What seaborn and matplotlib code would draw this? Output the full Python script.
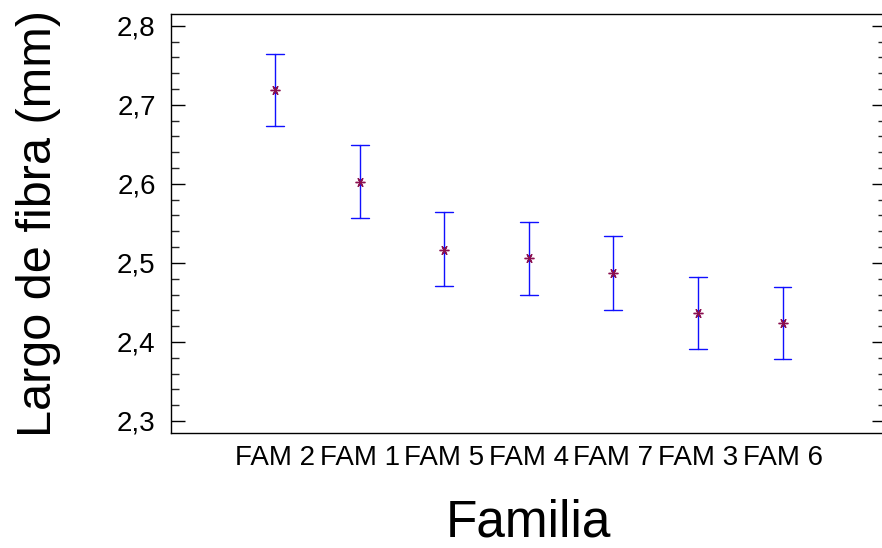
import numpy as np
import pandas as pd
import matplotlib
matplotlib.use("Agg")
import matplotlib.pyplot as plt
import seaborn as sns
from matplotlib.ticker import FixedLocator, MultipleLocator, FuncFormatter

familias = ["FAM 2", "FAM 1", "FAM 5", "FAM 4", "FAM 7", "FAM 3", "FAM 6"]
medias = [2.7187, 2.6019, 2.5167, 2.5062, 2.4868, 2.4362, 2.4243]
limite_inferior = [2.6731, 2.5564, 2.4711, 2.4594, 2.4408, 2.3907, 2.3784]
limite_superior = [2.7642, 2.6491, 2.5640, 2.5521, 2.5336, 2.4821, 2.4699]
y_ticks = [2.3, 2.4, 2.5, 2.6, 2.7, 2.8]

rows = []
for f, lo, m, hi in zip(familias, limite_inferior, medias, limite_superior):
    for v in (lo, m, hi):
        rows.append({"Familia": f, "Largo": v})
df = pd.DataFrame(rows)

sns.set_style("ticks")
plt.rcParams["font.family"] = ["Liberation Sans", "DejaVu Sans"]
plt.rcParams["text.color"] = "black"
plt.rcParams["axes.labelcolor"] = "black"

W, H = 882, 548
fig = plt.figure(figsize=(W / 100, H / 100), dpi=100)
left, right, top, bottom = 170.7, 886.3, 14.0, 432.7
ax = fig.add_axes([left / W, (H - bottom) / H, (right - left) / W, (bottom - top) / H])

sns.pointplot(
    data=df, x="Familia", y="Largo", order=familias,
    estimator="median", errorbar=("pi", 100),
    linestyle="none", marker=(6, 2, 90), markersize=7, markeredgewidth=1.0,
    color="#8a1050", capsize=0.21,
    err_kws={"color": "#1010ff", "linewidth": 1.0, "zorder": 2},
    zorder=3, ax=ax,
)

ax.set_xlim(-1.234, 7.227)
ax.set_ylim(2.2852, 2.8148)
ax.yaxis.set_major_locator(FixedLocator(y_ticks))
ax.yaxis.set_minor_locator(MultipleLocator(0.02))
ax.yaxis.set_major_formatter(FuncFormatter(lambda v, p: f"{v:.1f}".replace(".", ",")))

ax.tick_params(axis="y", which="major", direction="in", length=10, width=1,
               left=True, right=True, pad=10.8, labelsize=20, colors="black")
ax.tick_params(axis="y", which="minor", direction="in", length=5.5, width=1,
               left=True, right=True)
ax.tick_params(axis="x", which="both", length=0, pad=9, labelsize=20, colors="black")

for name, s in ax.spines.items():
    s.set_linewidth(1.0)
    s.set_color("black")
    s.set_visible(name != "right")

ax.set_xlabel("Familia", fontsize=37, color="black")
ax.set_ylabel("Largo de fibra (mm)", fontsize=35, color="black")
ax.xaxis.set_label_coords(0.5, -0.156)
ax.yaxis.set_label_coords(-0.153, 0.5)

fig.savefig("out.png", dpi=100)
